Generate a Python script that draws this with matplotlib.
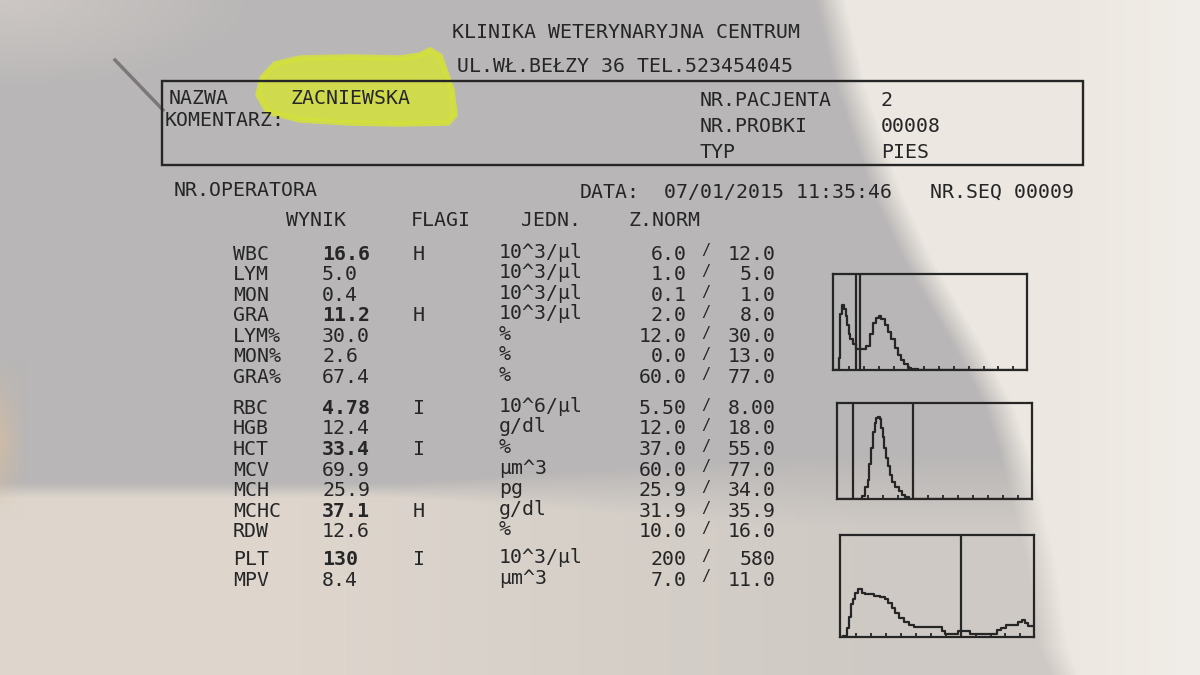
import numpy as np
import matplotlib
matplotlib.use('Agg')
import matplotlib.pyplot as plt
from matplotlib.patches import Polygon

# --- wyniki badania ---
params = ['WBC', 'LYM', 'MON', 'GRA', 'LYM%', 'MON%', 'GRA%',
          'RBC', 'HGB', 'HCT', 'MCV', 'MCH', 'MCHC', 'RDW',
          'PLT', 'MPV']
results = ['16.6', '5.0', '0.4', '11.2', '30.0', '2.6', '67.4',
           '4.78', '12.4', '33.4', '69.9', '25.9', '37.1', '12.6',
           '130', '8.4']
flags = ['H', '', '', 'H', '', '', '',
         'I', '', 'I', '', '', 'H', '',
         'I', '']
units = ['10^3/µl', '10^3/µl', '10^3/µl', '10^3/µl', '%', '%', '%',
         '10^6/µl', 'g/dl', '%', 'µm^3', 'pg', 'g/dl', '%',
         '10^3/µl', 'µm^3']
norm_low = ['6.0', '1.0', '0.1', '2.0', '12.0', '0.0', '60.0',
            '5.50', '12.0', '37.0', '60.0', '25.9', '31.9', '10.0',
            '200', '7.0']
norm_high = ['12.0', '5.0', '1.0', '8.0', '30.0', '13.0', '77.0',
             '8.00', '18.0', '55.0', '77.0', '34.0', '35.9', '16.0',
             '580', '11.0']
groups = [0] * 7 + [1] * 7 + [2] * 2

# --- histogramy (kanal, liczba) ---
wbc_ch = [0, 2.5, 3.4, 4.3, 5.1, 6.0, 6.9, 7.7, 8.6, 9.4, 11.1, 12.9, 14.6,
          16.3, 18.0, 19.7, 21.4, 23.2, 24.0, 25.7, 27.4, 29.2, 30.9, 32.6,
          34.3, 36.0, 37.7, 39.5, 41.2, 42.9, 44.5, 100]
wbc_cnt = [0, 0, 13, 58, 68, 64, 56, 47, 37, 32, 27, 22, 22,
           22, 25, 37, 49, 54, 56, 53, 47, 40, 32, 23,
           16, 10, 6, 2.5, 1.4, 0.7, 0, 0]
wbc_gates = [12.0, 14.1]

rbc_ch = [0, 12.3, 13.7, 15.4, 16.2, 17.1, 17.9, 18.8, 19.7, 20.5, 21.4,
          22.2, 23.1, 23.9, 24.8, 25.6, 26.5, 27.4, 29.1, 30.8, 32.5, 34.2,
          35.9, 37.6, 39.0, 100]
rbc_cnt = [0, 0, 2.8, 13, 20, 36, 53, 70, 79, 84, 85,
           83, 74, 65, 53, 43, 34, 25, 18, 13, 8, 4.5,
           1.7, 0.3, 0, 0]
rbc_gates = [8.0, 39.0]

plt_ch = [0, 3.4, 4.3, 5.2, 6.0, 6.9, 8.6, 10.3, 12.0, 13.7, 16.3, 18.9,
          22.3, 24.1, 25.8, 27.5, 29.2, 31.8, 34.4, 37.0, 39.5, 42.1, 47.3,
          51.5, 53.3, 55.0, 56.7, 59.3, 61.9, 66.2, 67.9, 71.3, 79.9, 81.6,
          84.2, 86.8, 90.2, 92.8, 94.5, 96.2, 97.9, 100]
plt_cnt = [0, 0.7, 9, 20, 32, 37, 43, 47, 43, 42, 42, 40,
           39, 37, 33, 28.5, 24, 19, 15, 12, 10, 10, 10,
           10, 5.6, 3, 3, 3, 5.6, 5.6, 3, 3, 3, 7,
           9, 11.5, 12, 15, 17, 14, 10.5, 10.5]
plt_gates = [62.4]

INK = '#262627'
FONT = 'DejaVu Sans Mono'
FS = 14.3

fig = plt.figure(figsize=(12, 6.75), dpi=100)
bg = fig.add_axes([0, 0, 1, 1])
bg.set_xlim(0, 1200)
bg.set_ylim(675, 0)
bg.axis('off')

# --- zdjecie kartki: cien dloni po lewej, jasna kartka po prawej ---
yy, xx = np.mgrid[0:675, 0:1200].astype(float)
edge_x = np.interp(yy[:, 0], [0, 86, 194, 259, 345, 409, 474, 560, 647, 675],
                   [830, 850, 887, 917, 967, 1000, 1020, 1040, 1053, 1065])
lit_right = np.clip((xx - edge_x[:, None]) / 30 + 0.5, 0, 1)
soft = 15 + 60 * np.clip((xx - 400) / 400, 0, 1)
lit_bottom = np.clip((yy - 490) / soft + 0.5, 0, 1)
k = np.clip((xx - 300) / 600, 0, 1)[..., None]
shadow = np.array([184, 182, 182]) / 255
bottom = (1 - k) * np.array([222, 214, 205]) / 255 + k * np.array([206, 201, 196]) / 255
right = np.array([236, 231, 224]) / 255 + np.clip((xx - 1050) / 150, 0, 1)[..., None] * np.array([5, 6, 8]) / 255
paper = shadow + lit_bottom[..., None] * (bottom - shadow)
paper = paper + lit_right[..., None] * (right - paper)
top_left = np.clip(1 - np.hypot(xx / 260, yy / 90), 0, 1)[..., None]
paper = paper + top_left * (np.array([210, 204, 200]) / 255 - paper) * 0.8
left_glow = np.clip(1 - xx / 25, 0, 1)[..., None] * np.clip(1 - np.abs(yy - 440) / 80, 0, 1)[..., None]
paper = paper + left_glow * (np.array([215, 190, 160]) / 255 - paper) * 0.7
bg.imshow(np.clip(paper, 0, 1), extent=(0, 1200, 675, 0), aspect='auto',
          interpolation='bilinear', zorder=0)

# zakreslacz
blob = [(262, 78), (275, 64), (300, 58), (350, 57), (400, 58), (420, 55),
        (430, 50), (440, 56), (445, 70), (452, 90), (455, 115), (448, 123),
        (400, 124), (350, 123), (300, 120), (268, 112), (258, 95)]
bg.add_patch(Polygon(blob, closed=True, facecolor='#d4e23a', edgecolor='#d4e23a',
                     lw=4, alpha=0.85, zorder=2))
bg.plot([115, 163], [60, 110], color='#7c7877', lw=2.5, zorder=3)


def txt(x, y, s, ha='left', weight='normal', size=FS):
    bg.text(x, y, s, ha=ha, va='center', family=FONT, fontsize=size,
            color=INK, weight=weight, zorder=5)


txt(626, 33, 'KLINIKA WETERYNARYJNA CENTRUM', ha='center')
txt(625, 67, 'UL.WŁ.BEŁZY 36 TEL.523454045', ha='center')

bg.add_patch(plt.Rectangle((162, 81), 921, 84, fill=False, edgecolor=INK,
                           lw=1.7, zorder=4))
txt(169, 98, 'NAZWA')
txt(290, 98, 'ZACNIEWSKA')
txt(165, 120, 'KOMENTARZ:')
txt(700, 101, 'NR.PACJENTA')
txt(881, 101, '2')
txt(700, 127, 'NR.PROBKI')
txt(881, 127, '00008')
txt(700, 153, 'TYP')
txt(881, 153, 'PIES')

txt(174, 191, 'NR.OPERATORA')
txt(580, 192, 'DATA:')
txt(664, 192, '07/01/2015 11:35:46')
txt(930, 192, 'NR.SEQ 00009')

txt(286, 220, 'WYNIK')
txt(411, 220, 'FLAGI')
txt(521, 220, 'JEDN.')
txt(629, 220, 'Z.NORM')

gap = [0, 10, 17]
for i, p in enumerate(params):
    y = 254 + 20.6 * i + gap[groups[i]]
    txt(233, y, p)
    txt(322, y, results[i], weight='bold' if flags[i] else 'normal')
    txt(413, y, flags[i])
    txt(499, y - 2, units[i])
    txt(687, y, norm_low[i], ha='right')
    txt(706, y - 3, '/', ha='center', size=11)
    txt(776, y, norm_high[i], ha='right')


def hist_panel(rect, ch, cnt, gates):
    ax = fig.add_axes(rect)
    ax.patch.set_alpha(0)
    ax.plot(ch, cnt, drawstyle='steps-mid', color=INK, lw=1.6)
    for g in gates:
        ax.axvline(g, color=INK, lw=1.6)
    ax.set_xlim(0, 100)
    ax.set_ylim(0, 100)
    ax.set_xticks(np.arange(8.3, 95, 7.7))
    ax.set_yticks([])
    ax.tick_params(axis='x', direction='in', length=3, width=1.3,
                   color=INK, labelbottom=False)
    for s in ax.spines.values():
        s.set_color(INK)
        s.set_linewidth(1.6)
    return ax


def px_rect(x0, x1, y0, y1):
    return [x0 / 1200, 1 - y1 / 675, (x1 - x0) / 1200, (y1 - y0) / 675]


hist_panel(px_rect(833, 1027, 274, 370), wbc_ch, wbc_cnt, wbc_gates)
hist_panel(px_rect(837, 1032, 403, 499), rbc_ch, rbc_cnt, rbc_gates)
hist_panel(px_rect(840, 1034, 535, 637), plt_ch, plt_cnt, plt_gates)

fig.savefig('out.png', dpi=100)
